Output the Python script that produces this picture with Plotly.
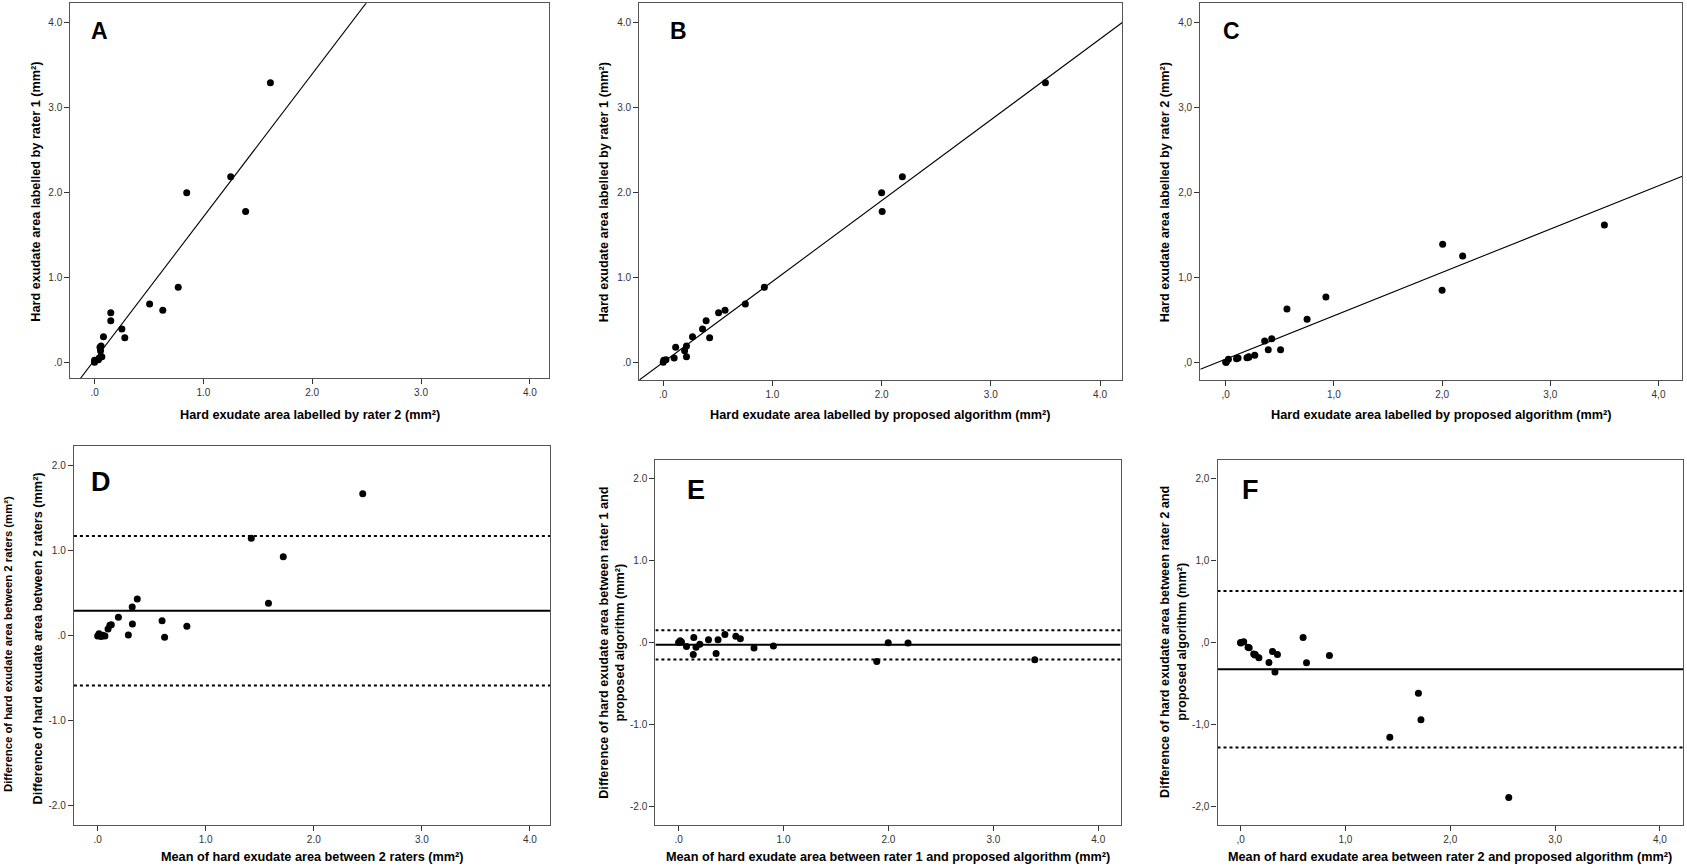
import plotly.graph_objects as go

W, H = 1687, 867

# ---------------- data ----------------
# hard exudate area (mm^2) per case
alg = [3.50, 2.19, 2.00, 2.005, 0.926, 0.752, 0.566, 0.507, 0.393, 0.360,
       0.425, 0.268, 0.213, 0.114, 0.196, 0.213, 0.100, 0.025, 0.005, 0.000]
rater1 = [3.29, 2.184, 1.996, 1.773, 0.882, 0.686, 0.612, 0.584, 0.490, 0.392,
          0.290, 0.302, 0.192, 0.176, 0.137, 0.067, 0.051, 0.030, 0.025, 0.000]
rater2 = [1.616, 1.251, 0.847, 1.388, 0.769, 0.506, 0.627, 0.149, 0.149, 0.251,
          0.278, 0.082, 0.060, 0.050, 0.055, 0.067, 0.043, 0.035, 0.000, 0.000]

# fitted lines (slope, intercept)
fit_A = (1.682, 0.029)   # rater1 vs rater2
fit_B = (0.951, 0.000)   # rater1 vs algorithm
fit_C = (0.510, 0.038)   # rater2 vs algorithm

# Bland-Altman: mean difference, upper LoA, lower LoA
ba_D = (0.298, 1.176, -0.584)
ba_E = (-0.028, 0.150, -0.207)
ba_F = (-0.325, 0.625, -1.278)

tick_top = [0, 1, 2, 3, 4]
lab_top_dot = [".0", "1.0", "2.0", "3.0", "4.0"]
lab_top_com = [",0", "1,0", "2,0", "3,0", "4,0"]
tick_bot_y = [-2, -1, 0, 1, 2]
lab_bot_dot = ["-2.0", "-1.0", ".0", "1.0", "2.0"]
lab_bot_com = ["-2,0", "-1,0", ",0", "1,0", "2,0"]

# ---------------- derived ----------------
def ba(a, b):
    m = [(p + q) / 2 for p, q in zip(a, b)]
    d = [p - q for p, q in zip(a, b)]
    return m, d

D_mean, D_diff = ba(rater1, rater2)
E_mean, E_diff = ba(rater1, alg)
F_mean, F_diff = ba(rater2, alg)

# ---------------- layout geometry (pixels) ----------------
panels = [
    dict(letter="A", box=(70.4, 548.9, 3.3, 378.3), xr=(-0.222, 4.175), yr=(-0.188, 4.224),
         xt=lab_top_dot, yv=tick_top, yt=lab_top_dot, lpos=(89, 31), lsize=23),
    dict(letter="B", box=(639.3, 1122.3, 3.3, 380.0), xr=(-0.219, 4.204), yr=(-0.208, 4.224),
         xt=lab_top_dot, yv=tick_top, yt=lab_top_dot, lpos=(668, 31), lsize=23),
    dict(letter="C", box=(1200.3, 1682.3, 3.3, 380.0), xr=(-0.235, 4.22), yr=(-0.208, 4.224),
         xt=lab_top_com, yv=tick_top, yt=lab_top_com, lpos=(1221, 31), lsize=23),
    dict(letter="D", box=(73.9, 550.0, 446.0, 825.0), xr=(-0.22, 4.186), yr=(-2.224, 2.235),
         xt=lab_top_dot, yv=tick_bot_y, yt=lab_bot_dot, lpos=(89, 482), lsize=27),
    dict(letter="E", box=(655.4, 1120.7, 460.0, 825.0), xr=(-0.221, 4.214), yr=(-2.22, 2.22),
         xt=lab_top_dot, yv=tick_bot_y, yt=lab_bot_dot, lpos=(685, 490), lsize=27),
    dict(letter="F", box=(1217.5, 1683.0, 460.0, 825.0), xr=(-0.22, 4.22), yr=(-2.22, 2.22),
         xt=lab_top_com, yv=tick_bot_y, yt=lab_bot_com, lpos=(1240, 490), lsize=27),
]

fig = go.Figure()
layout = dict(width=W, height=H, margin=dict(l=0, r=0, t=0, b=0),
              paper_bgcolor="white", plot_bgcolor="white", showlegend=False)

tickfont = dict(family="Liberation Sans, Arial, sans-serif", size=10, color="#333333")
annots = []

for i, p in enumerate(panels, start=1):
    l, r, t, b = p["box"]
    xk = "xaxis" if i == 1 else f"xaxis{i}"
    yk = "yaxis" if i == 1 else f"yaxis{i}"
    xs = "x" if i == 1 else f"x{i}"
    ys = "y" if i == 1 else f"y{i}"
    common = dict(showline=True, mirror=True, linecolor="#555555", linewidth=1.3,
                  ticks="outside", ticklen=5, tickwidth=1, tickcolor="#333333",
                  showgrid=False, zeroline=False, tickfont=tickfont, fixedrange=True)
    layout[xk] = dict(domain=[l / W, r / W], range=list(p["xr"]), anchor=ys,
                      tickvals=tick_top, ticktext=p["xt"], **common)
    layout[yk] = dict(domain=[1 - b / H, 1 - t / H], range=list(p["yr"]), anchor=xs,
                      tickvals=p["yv"], ticktext=p["yt"], **common)
    annots.append(dict(text=f"<b>{p['letter']}</b>", xref="paper", yref="paper",
                       x=p["lpos"][0] / W, y=1 - p["lpos"][1] / H, xanchor="left",
                       yanchor="middle", showarrow=False,
                       font=dict(family="Liberation Sans, Arial", size=p["lsize"], color="black")))

def line_trace(xs, ys, xr, slope, icpt):
    x0, x1 = xr
    return go.Scatter(x=[x0, x1], y=[slope * x0 + icpt, slope * x1 + icpt], mode="lines",
                      line=dict(color="black", width=1.1), xaxis=xs, yaxis=ys, hoverinfo="skip")

def hline(xs, ys, xr, yv, dash, width):
    return go.Scatter(x=[xr[0], xr[1]], y=[yv, yv], mode="lines",
                      line=dict(color="black", width=width, dash=dash),
                      xaxis=xs, yaxis=ys, hoverinfo="skip")

def pts(x, y, xs, ys):
    return go.Scatter(x=x, y=y, mode="markers", marker=dict(color="black", size=7),
                      xaxis=xs, yaxis=ys)

# A
fig.add_trace(line_trace("x", "y", panels[0]["xr"], *fit_A))
fig.add_trace(pts(rater2, rater1, "x", "y"))
# B
fig.add_trace(line_trace("x2", "y2", panels[1]["xr"], *fit_B))
fig.add_trace(pts(alg, rater1, "x2", "y2"))
# C
fig.add_trace(line_trace("x3", "y3", panels[2]["xr"], *fit_C))
fig.add_trace(pts(alg, rater2, "x3", "y3"))

# D, E, F
for k, (ba_vals, mx, dy) in enumerate([(ba_D, D_mean, D_diff), (ba_E, E_mean, E_diff),
                                       (ba_F, F_mean, F_diff)], start=4):
    xs, ys = f"x{k}", f"y{k}"
    xr = panels[k - 1]["xr"]
    fig.add_trace(hline(xs, ys, xr, ba_vals[1], "dot", 2))
    fig.add_trace(hline(xs, ys, xr, ba_vals[2], "dot", 2))
    fig.add_trace(hline(xs, ys, xr, ba_vals[0], "solid", 2))
    fig.add_trace(pts(mx, dy, xs, ys))

# axis titles
tf = dict(family="Liberation Sans, Arial, sans-serif", size=12.7, color="black")
def title(text, x, y, angle=0, size=None):
    f = dict(tf)
    if size:
        f["size"] = size
    annots.append(dict(text=f"<b>{text}</b>", xref="paper", yref="paper", x=x / W, y=1 - y / H,
                       xanchor="center", yanchor="middle", showarrow=False, textangle=angle,
                       font=f))

title("Hard exudate area labelled by rater 2 (mm²)", 309.6, 415)
title("Hard exudate area labelled by proposed algorithm (mm²)", 880.8, 415)
title("Hard exudate area labelled by proposed algorithm (mm²)", 1441.3, 415)
title("Hard exudate area labelled by rater 1 (mm²)", 35.7, 192, -90)
title("Hard exudate area labelled by rater 1 (mm²)", 604.3, 192, -90)
title("Hard exudate area labelled by rater 2 (mm²)", 1165.2, 192, -90)

title("Mean of hard exudate area between 2 raters (mm²)", 312, 857)
title("Mean of hard exudate area between rater 1 and proposed algorithm (mm²)", 888, 857)
title("Mean of hard exudate area between rater 2 and proposed algorithm (mm²)", 1450, 857)
title("Difference of hard exudate area between 2 raters (mm²)", 37.5, 639, -90)
title("Difference of hard exudate area between 2 raters (mm²)", 8, 644, -90, size=11.3)
title("Difference of hard exudate area between rater 1 and<br>proposed algorithm (mm²)", 612.3, 642.5, -90)
title("Difference of hard exudate area between rater 2 and<br>proposed algorithm (mm²)", 1173.5, 642.5, -90)

layout["annotations"] = annots
fig.update_layout(**layout)

fig.write_html("out.html", config={"displayModeBar": False},
               post_script="document.body.style.margin='0';")
